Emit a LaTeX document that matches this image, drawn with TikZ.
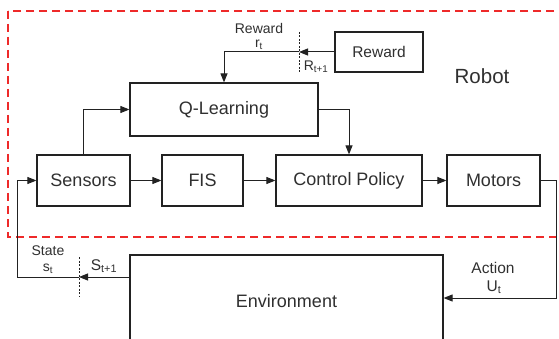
\documentclass[tikz,border=0pt]{standalone}
\usepackage{fontspec}
\setmainfont{Liberation Sans}
\usetikzlibrary{arrows.meta,calc}
\definecolor{ink}{HTML}{222222}
\definecolor{txt}{HTML}{303030}
\definecolor{robotred}{HTML}{EE2A2A}
\tikzset{
  block/.style={draw=ink, line width=1.2pt, fill=white, text=txt, inner sep=0pt,
    font=\fontsize{18}{20}\selectfont},
  link/.style={draw=ink, line width=1pt},
  arr/.style={link, -{Triangle[length=9pt,width=7pt]}},
  divider/.style={draw=ink, line width=0.9pt, dash pattern=on 2pt off 1.5pt},
  lbl/.style={text=txt, inner sep=0pt, font=\fontsize{14}{16}\selectfont},
  biglbl/.style={text=txt, inner sep=0pt, font=\fontsize{15.5}{17}\selectfont},
}
\begin{document}
\begin{tikzpicture}[x=1pt, y=-1pt]
\useasboundingbox (0,0) rectangle (559,339);
\clip (0,0) rectangle (559,339);
\fill[white] (0,0) rectangle (559,339);

% robot boundary
\draw[robotred, line width=1.3pt, dash pattern=on 8pt off 5pt] (8,11) rectangle (575,237);
\node[text=txt, inner sep=0pt, font=\fontsize{20.5}{22}\selectfont] (robot) at (482,76) {Robot};

% blocks
\node[block, minimum width=88pt, minimum height=40pt, font=\fontsize{15.5}{17}\selectfont] (rew) at (379,52) {Reward};
\node[block, minimum width=188pt, minimum height=53pt] (q) at (224,109.5) {Q-Learning};
\node[block, minimum width=93pt, minimum height=51pt] (sens) at (83.5,180.5) {Sensors};
\node[block, minimum width=81pt, minimum height=51pt] (fis) at (202.5,180.5) {FIS};
\node[block, minimum width=146pt, minimum height=51pt] (ctrl) at (349,180.5) {Control Policy};
\node[block, minimum width=93pt, minimum height=51pt] (mot) at (493.5,180.5) {Motors};
\node[block, minimum width=313pt, minimum height=92pt] (env) at (286.5,301) {Environment};

% reward path
\coordinate (rdiv) at (299,52);
\coordinate (rdivtop) at (299,32);
\coordinate (rdivbot) at (299,72);
\draw[divider] (rdivtop) -- (rdivbot);
\draw[arr] (rew.west) -- (rdiv);
\draw[arr] (rdiv) -| (q.north);
\node[lbl] (rewlbl) at (259,28) {Reward};
\node[lbl] (rtlbl) at (259,45) {r\textsubscript{t}};
\node[lbl] (rnext) at (316,67) {R\textsubscript{t+1}};

% internal flow
\draw[arr] (sens.north) |- (q.west);
\draw[arr] (q.east) -| (ctrl.north);
\draw[arr] (sens.east) -- (fis.west);
\draw[arr] (fis.east) -- (ctrl.west);
\draw[arr] (ctrl.east) -- (mot.west);

% action to environment
\coordinate (actc) at (556,298);
\draw[arr] (mot.east) -| (actc) -- (actc -| env.east);
\node[biglbl] (actlbl) at (493,268) {Action};
\node[biglbl] (utlbl) at (494,287) {U\textsubscript{t}};

% state back to sensors
\coordinate (stc) at (17,277);
\coordinate (sdiv) at (79,277);
\coordinate (sdivtop) at (79,257);
\coordinate (sdivbot) at (79,297);
\draw[divider] (sdivtop) -- (sdivbot);
\draw[arr] (env.west |- stc) -- (sdiv);
\draw[arr] (sdiv) -- (stc) |- (sens.west);
\node[lbl] (statelbl) at (48,251) {State};
\node[lbl] (stlbl) at (48,269) {s\textsubscript{t}};
\node[biglbl] (snext) at (104,266) {S\textsubscript{t+1}};
\end{tikzpicture}
\end{document}
